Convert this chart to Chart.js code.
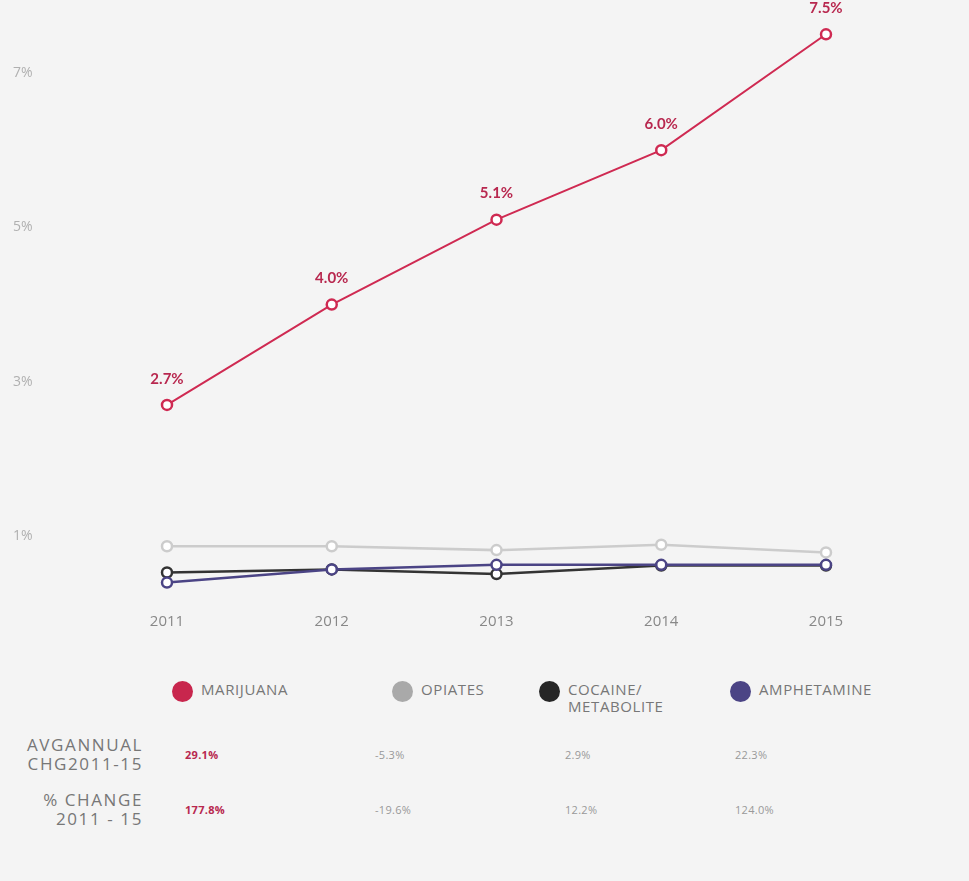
<!DOCTYPE html>
<html>
<head>
<meta charset="utf-8">
<script src="https://cdn.jsdelivr.net/npm/chart.js@4/dist/chart.umd.min.js"></script>
<style>
  body { margin: 0; background: #f4f4f4; font-family: "Open Sans", sans-serif; overflow: hidden; }
  #wrap { position: relative; width: 969px; height: 881px; }
  #chartBox { position: absolute; left: 0; top: 0; width: 969px; height: 640px; }
  .leg { position: absolute; top: 681px; display: flex; align-items: flex-start; color: #777; font-size: 15px; letter-spacing: 0.6px; line-height: 17px; white-space: nowrap; }
  .leg .dot { width: 21px; height: 21px; border-radius: 50%; margin-right: 8px; flex: none; }
  .rowlab { position: absolute; right: 826px; text-align: right; color: #777; font-size: 17px; line-height: 19px; letter-spacing: 1.6px; white-space: nowrap; }
  .val { position: absolute; color: #999; font-size: 11px; letter-spacing: 0.3px; }
  .val.hot { color: #b8284f; font-weight: bold; }
</style>
</head>
<body>
<div id="wrap">
  <div id="chartBox"><canvas id="lineChart"></canvas></div>
</div>
<script>
// years and yearly positive rates (%)
const years = ["2011", "2012", "2013", "2014", "2015"];
const marijuana = [2.7, 4.0, 5.1, 6.0, 7.5];
const opiates = [0.87, 0.87, 0.82, 0.89, 0.79];
const cocaine = [0.53, 0.57, 0.51, 0.62, 0.62];
const amphetamine = [0.40, 0.57, 0.63, 0.63, 0.63];
const yTicks = [1, 3, 5, 7];

// legend and summary table
const seriesNames = [["MARIJUANA"], ["OPIATES"], ["COCAINE/", "METABOLITE"], ["AMPHETAMINE"]];
const seriesColors = ["#c8264d", "#a9a9a9", "#262626", "#4b4485"];
const avgAnnualChg = ["29.1%", "-5.3%", "2.9%", "22.3%"];
const pctChange = ["177.8%", "-19.6%", "12.2%", "124.0%"];
const rowLabels = [["AVGANNUAL", "CHG2011-15"], ["% CHANGE", "2011 - 15"]];

const lineColors = ["#cf2a52", "#cccccc", "#333333", "#4b4485"];

function ds(label, data, color, z) {
  return {
    label: label,
    data: data,
    borderColor: color,
    borderWidth: z === 1 ? 2 : 2.5,
    backgroundColor: "#ffffff",
    pointBackgroundColor: "#ffffff",
    pointBorderColor: color,
    pointBorderWidth: 2.5,
    pointRadius: 5,
    tension: 0,
    order: z
  };
}

// value labels above the marijuana points
const valueLabels = {
  id: "valueLabels",
  afterDatasetsDraw(chart) {
    const ctx = chart.ctx;
    const meta = chart.getDatasetMeta(0);
    ctx.save();
    ctx.font = "bold 15px Lato";
    ctx.fillStyle = "#b8284f";
    ctx.textAlign = "center";
    ctx.textBaseline = "middle";
    meta.data.forEach(function(pt, i) {
      ctx.fillText(marijuana[i].toFixed(1) + "%", pt.x, pt.y - 26);
    });
    ctx.restore();
  }
};

const ctx = document.getElementById("lineChart").getContext("2d");
const myChart = new Chart(ctx, {
  type: "line",
  data: {
    labels: years,
    datasets: [
      ds("Marijuana", marijuana, lineColors[0], 1),
      ds("Opiates", opiates, lineColors[1], 4),
      ds("Cocaine/Metabolite", cocaine, lineColors[2], 3),
      ds("Amphetamine", amphetamine, lineColors[3], 2)
    ]
  },
  options: {
    responsive: true,
    maintainAspectRatio: false,
    animation: false,
    layout: { padding: { left: 13, right: 143, top: 15, bottom: 0 } },
    plugins: { legend: { display: false }, tooltip: { enabled: false } },
    scales: {
      x: {
        grid: { display: false },
        border: { display: false },
        ticks: { color: "#888", font: { family: "Open Sans", size: 15 }, padding: 7 },
        afterFit(axis) { axis.height = 42; }
      },
      y: {
        min: 0.2,
        max: 7.75,
        grid: { display: false },
        border: { display: false },
        afterBuildTicks(axis) { axis.ticks = yTicks.map(v => ({ value: v })); },
        ticks: {
          color: "#b0b0b0",
          crossAlign: "far",
          padding: 0,
          font: { family: "Open Sans", size: 14 },
          callback: v => v + "%"
        },
        afterFit(axis) { axis.width = 154; }
      }
    }
  },
  plugins: [valueLabels]
});

// legend row
const wrap = document.getElementById("wrap");
const legLeft = [172, 392, 539, 730];
seriesNames.forEach(function(name, i) {
  const el = document.createElement("div");
  el.className = "leg";
  el.style.left = legLeft[i] + "px";
  el.innerHTML = '<span class="dot" style="background:' + seriesColors[i] + '"></span><span>' + name.join("<br>") + "</span>";
  wrap.appendChild(el);
});

// summary rows
const valLeft = [185, 375, 565, 735];
[avgAnnualChg, pctChange].forEach(function(row, r) {
  const top = r === 0 ? 735 : 790;
  const lab = document.createElement("div");
  lab.className = "rowlab";
  lab.style.top = top + "px";
  lab.innerHTML = rowLabels[r].join("<br>");
  wrap.appendChild(lab);
  row.forEach(function(v, i) {
    const el = document.createElement("div");
    el.className = "val" + (i === 0 ? " hot" : "");
    el.style.left = valLeft[i] + "px";
    el.style.top = (top + 12) + "px";
    el.textContent = v;
    wrap.appendChild(el);
  });
});
</script>
</body>
</html>
